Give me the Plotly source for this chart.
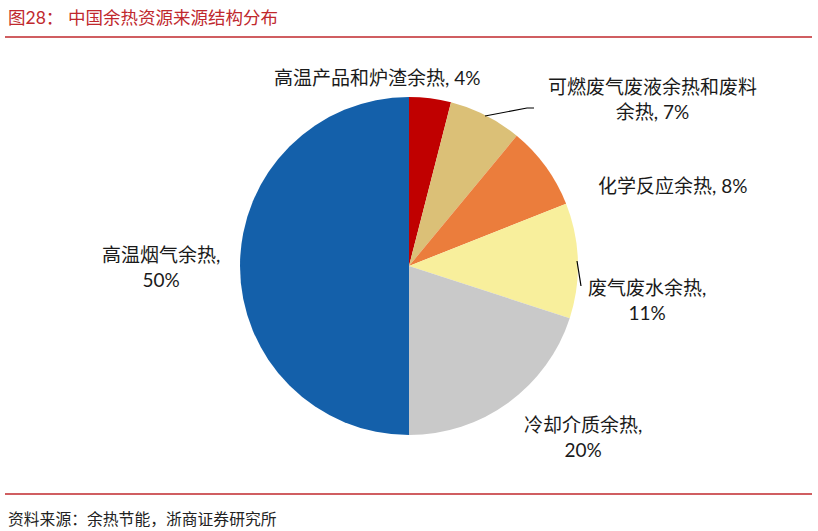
import plotly.graph_objects as go

categories = ["高温产品和炉渣余热", "可燃废气废液余热和废料余热", "化学反应余热",
              "废气废水余热", "冷却介质余热", "高温烟气余热"]
values = [4, 7, 8, 11, 20, 50]
colors = ["#C00000", "#DBC077", "#EB7D3C", "#F8EF9C", "#C9C9C9", "#1460AA"]
label_texts = ["高温产品和炉渣余热, 4%", "可燃废气废液余热和废料<br>余热, 7%", "化学反应余热, 8%",
               "废气废水余热,<br>11%", "冷却介质余热,<br>20%", "高温烟气余热,<br>50%"]
label_pos = [(377, 78), (652, 99), (672, 185), (647, 300), (583, 437), (161, 267)]

W, H = 818, 531
FONT = "Lato, Noto Sans CJK SC"

fig = go.Figure()
fig.add_trace(go.Pie(
    labels=categories, values=values, sort=False, direction="clockwise", rotation=0,
    marker=dict(colors=colors, line=dict(width=0)),
    textinfo="none", hoverinfo="label+percent", showlegend=False,
    domain=dict(x=[240 / W, 578 / W], y=[1 - 435 / H, 1 - 97 / H]),
))

annotations = []
for txt, (x, y) in zip(label_texts, label_pos):
    annotations.append(dict(x=x / W, y=1 - y / H, xref="paper", yref="paper", text=txt,
                            showarrow=False, xanchor="center", yanchor="middle", align="center",
                            font=dict(family=FONT, size=19, color="#1a1a1a")))
annotations.append(dict(x=6 / W, y=1 - 17 / H, xref="paper", yref="paper",
                        text="图28：", showarrow=False,
                        xanchor="left", yanchor="middle",
                        font=dict(family=FONT, size=17.5, color="#C0282D")))
annotations.append(dict(x=66 / W, y=1 - 17 / H, xref="paper", yref="paper",
                        text="中国余热资源来源结构分布", showarrow=False,
                        xanchor="left", yanchor="middle",
                        font=dict(family=FONT, size=17.5, color="#C0282D")))
annotations.append(dict(x=6 / W, y=1 - 518 / H, xref="paper", yref="paper",
                        text="资料来源：余热节能，浙商证券研究所", showarrow=False,
                        xanchor="left", yanchor="middle",
                        font=dict(family=FONT, size=15.8, color="#222222")))

shapes = [
    dict(type="line", xref="paper", yref="paper", x0=5 / W, x1=812 / W,
         y0=1 - 37 / H, y1=1 - 37 / H, line=dict(color="#C0282D", width=1.3)),
    dict(type="line", xref="paper", yref="paper", x0=5 / W, x1=812 / W,
         y0=1 - 494 / H, y1=1 - 494 / H, line=dict(color="#C0282D", width=1.3)),
    dict(type="path", xref="paper", yref="paper",
         path=f"M {485/W},{1-116/H} L {527/W},{1-108/H} L {534/W},{1-108/H}",
         line=dict(color="black", width=1.2)),
    dict(type="line", xref="paper", yref="paper", x0=577 / W, x1=581 / W,
         y0=1 - 261 / H, y1=1 - 286 / H, line=dict(color="black", width=1.2)),
]

fig.update_layout(width=W, height=H, margin=dict(l=0, r=0, t=0, b=0),
                  paper_bgcolor="white", plot_bgcolor="white",
                  annotations=annotations, shapes=shapes)
fig.write_html("out.html", config={"displayModeBar": False},
               post_script="document.body.style.margin='0';document.body.style.overflow='hidden';")
